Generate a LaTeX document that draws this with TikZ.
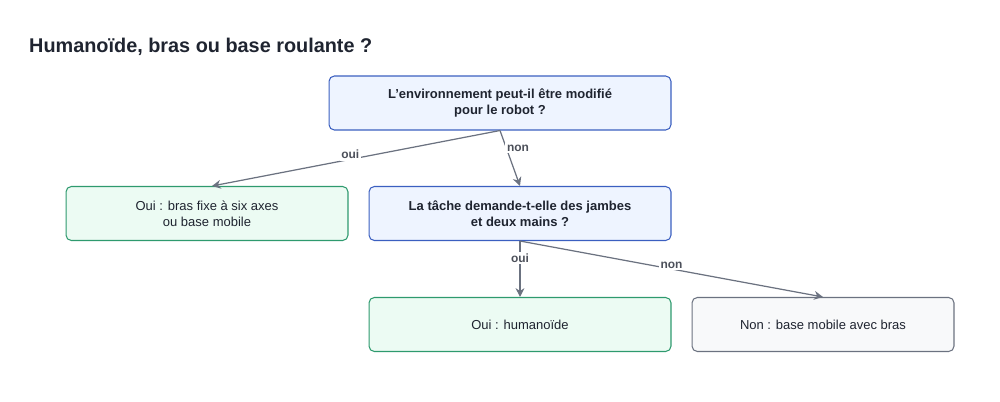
\documentclass[tikz,border=0pt]{standalone}
\usepackage{fontspec}
\setmainfont{Liberation Sans}
\usetikzlibrary{arrows.meta}
\definecolor{bluefill}{HTML}{EEF4FF}
\definecolor{blueline}{HTML}{3B5FC0}
\definecolor{greenfill}{HTML}{ECFBF3}
\definecolor{greenline}{HTML}{2E9A6E}
\definecolor{grayfill}{HTML}{F8F9FA}
\definecolor{grayline}{HTML}{6B7280}
\definecolor{titlecol}{HTML}{1F2430}
\begin{document}
\begin{tikzpicture}
        [x=0.02cm,y=-0.02cm,
        every node/.style={font=\fontsize{7.4}{9}\selectfont,text=titlecol,align=center},
        box/.style={draw,rounded corners=3pt,line width=0.6pt,minimum height=1.08cm},
        ask/.style={box,fill=bluefill,draw=blueline},
        yes/.style={box,fill=greenfill,draw=greenline},
        no/.style={box,fill=grayfill,draw=grayline},
        edge/.style={draw=grayline,line width=0.7pt,-{Stealth[length=5pt,width=5pt]}},
        lbl/.style={fill=white,inner sep=1pt,font=\fontsize{6.8}{8}\selectfont\bfseries,text=titlecol!80}]
        \useasboundingbox (0,0) rectangle (1000,402);

        \node[anchor=west,font=\fontsize{11.3}{13}\selectfont\bfseries] (title) at (23,47) {Humanoïde, bras ou base roulante ?};

        \node[ask,minimum width=6.84cm] (q1) at (500,103) {\bfseries L'environnement peut-il être modifié\\\bfseries pour le robot ?};
        \node[yes,minimum width=5.64cm] (a1) at (207,213.5) {Oui : bras fixe à six axes\\ou base mobile};
        \node[ask,minimum width=6.04cm] (q2) at (520,213.5) {\bfseries La tâche demande-t-elle des jambes\\\bfseries et deux mains ?};
        \node[yes,minimum width=6.04cm] (a2) at (520,324.5) {Oui : humanoïde};
        \node[no,minimum width=5.24cm] (a3) at (823,324.5) {Non : base mobile avec bras};

        \draw[edge] (q1.south) -- (212,186) node[lbl,pos=0.52,above=-1pt] {oui};
        \draw[edge] (q1.south) -- (q2.north) node[lbl,pos=0.32,right=-1pt] {non};
        \draw[edge] (q2.south) -- (a2.north) node[lbl,pos=0.3] {oui};
        \draw[edge] (q2.south) -- (a3.north) node[lbl,pos=0.5,above=-1pt] {non};

      \end{tikzpicture}
\end{document}
